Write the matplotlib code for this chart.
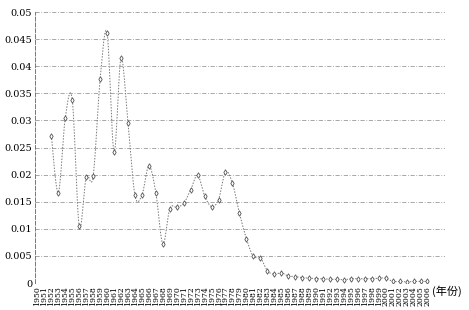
import matplotlib
matplotlib.use("Agg")
import matplotlib.pyplot as plt
import numpy as np

plt.rcParams['font.family'] = ['DejaVu Serif', 'Noto Sans CJK SC']

# data
years = list(range(1952, 2007))
values = [
    0.0272, 0.0167, 0.0305, 0.0338, 0.0105, 0.0195, 0.0197, 0.0376, 0.0462, 0.0242,
    0.0415, 0.0295, 0.0162, 0.0162, 0.0216, 0.0167, 0.0072, 0.0137, 0.0140, 0.0147,
    0.0172, 0.0199, 0.0161, 0.0141, 0.0154, 0.0205, 0.0184, 0.0129, 0.0082, 0.0049,
    0.0047, 0.0023, 0.0016, 0.0019, 0.0013, 0.0012, 0.0010, 0.0009, 0.0008, 0.0008,
    0.0007, 0.0007, 0.0006, 0.0008, 0.0008, 0.0008, 0.0008, 0.0009, 0.0009, 0.0003,
    0.0003, 0.0002, 0.0003, 0.0003, 0.0003,
]
tick_years = list(range(1950, 2007))
y_ticks = [0, 0.005, 0.01, 0.015, 0.02, 0.025, 0.03, 0.035, 0.04, 0.045, 0.05]
y_labels = ['0', '0.005', '0.01', '0.015', '0.02', '0.025', '0.03', '0.035',
            '0.04', '0.045', '0.05']


def smooth(x, y, n=12):
    # excel-like smoothed line (cardinal spline through the points)
    x = np.asarray(x, float)
    y = np.asarray(y, float)
    px = np.concatenate([[x[0]], x, [x[-1]]])
    py = np.concatenate([[y[0]], y, [y[-1]]])
    xs, ys = [], []
    t = np.linspace(0, 1, n, endpoint=False)
    for i in range(1, len(px) - 2):
        p0x, p1x, p2x, p3x = px[i - 1], px[i], px[i + 1], px[i + 2]
        p0y, p1y, p2y, p3y = py[i - 1], py[i], py[i + 1], py[i + 2]
        c1x = p1x + (p2x - p0x) / 6
        c1y = p1y + (p2y - p0y) / 6
        c2x = p2x - (p3x - p1x) / 6
        c2y = p2y - (p3y - p1y) / 6
        b0 = (1 - t) ** 3
        b1 = 3 * (1 - t) ** 2 * t
        b2 = 3 * (1 - t) * t ** 2
        b3 = t ** 3
        xs.append(b0 * p1x + b1 * c1x + b2 * c2x + b3 * p2x)
        ys.append(b0 * p1y + b1 * c1y + b2 * c2y + b3 * p2y)
    xs.append([x[-1]])
    ys.append([y[-1]])
    return np.concatenate(xs), np.concatenate(ys)


fig = plt.figure(figsize=(4.69, 3.10), dpi=100)
ax = fig.add_axes([0.0746, 0.087, 0.874, 0.874])

sx, sy = smooth(years, values)
ax.plot(sx, sy, color='#777777', lw=0.7, ls=(0, (1.5, 1.5)))
ax.plot(years, values, ls='none', marker='d', ms=2.8, mfc='white',
        mec='#555555', mew=0.6)

ax.set_xlim(1949.65, 2008.5)
ax.set_ylim(0, 0.05)
ax.set_yticks(y_ticks)
ax.set_yticklabels(y_labels, fontsize=7)
ax.set_xticks(tick_years)
ax.set_xticklabels([str(v) for v in tick_years], rotation=90, fontsize=5.6)
ax.tick_params(length=0, pad=2)

for v in y_ticks:
    ax.axhline(v, color='#999999', lw=0.6, ls=(0, (5, 2, 1, 2)), zorder=0)

for s in ['top', 'right', 'bottom']:
    ax.spines[s].set_visible(False)
ax.spines['left'].set_linestyle((0, (4, 2)))
ax.spines['left'].set_color('#777777')
ax.spines['left'].set_linewidth(0.7)

fig.text(0.922, 0.06, '(年份)', fontsize=8, family=['Noto Sans CJK SC', 'DejaVu Sans'],
         va='center', ha='left')

fig.savefig('out.png', dpi=100)
